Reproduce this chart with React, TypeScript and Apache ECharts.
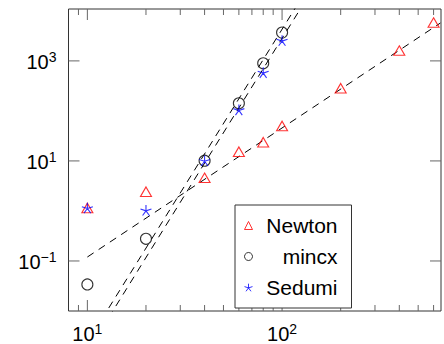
import React, { useEffect, useRef } from "react";
import * as echarts from "echarts";

// ---- data ----
const newtonSizes = [10, 20, 40, 60, 80, 100, 200, 400, 600];
const newtonTime = [1.15, 2.43, 4.6, 15.3, 23.7, 50, 284, 1607, 5836];
const solverSizes = [10, 20, 40, 60, 80, 100];
const mincxTime = [0.034, 0.278, 10.1, 142, 895, 3680];
const sedumiTime = [1.15, 1.03, 10.1, 105, 584, 2550];

// dashed fit lines (end points)
const newtonFitX = [10, 650];
const newtonFitY = [0.12, 5710];
const mincxFitX = [10, 150];
const mincxFitY = [0.00236, 54300];
const sedumiFitX = [10, 150];
const sedumiFitY = [0.00152, 35900];

// axis ticks
const xMajorTicks = [10, 100];
const xMinorTicks = [9, 20, 30, 40, 50, 60, 70, 80, 90, 200, 300, 400, 500, 600];
const yMajorTicks = [0.1, 10, 1000];
const xLabelExps = [1, 2];
const yLabelExps = [-1, 1, 3];

const X_MIN = 8;
const X_MAX = 655;
const Y_MIN = 0.01;
const Y_MAX = 10900;

const FONT = "Liberation Sans";
const STAR_PATH =
  "path://M0,-10L0,0M9.51,-3.09L0,0M5.88,8.09L0,0M-5.88,8.09L0,0M-9.51,-3.09L0,0";

const pairs = (xs: number[], ys: number[]) => xs.map((x, i) => [x, ys[i]]);

const makeFormatter = (exps: number[]) => (v: number) => {
  const e = Math.log10(v);
  const r = Math.round(e);
  if (Math.abs(e - r) > 1e-6 || exps.indexOf(r) < 0) return "";
  const sup = r < 0 ? "\u2212" + Math.abs(r) : String(r);
  return `{b|10}{s|${sup}}`;
};

const labelRich = {
  b: { fontSize: 20, fontFamily: FONT, color: "#000", lineHeight: 22, verticalAlign: "bottom" },
  s: { fontSize: 14, fontFamily: FONT, color: "#000", lineHeight: 14, verticalAlign: "top" },
};

export default function App() {
  const ref = useRef<HTMLDivElement>(null);

  useEffect(() => {
    if (!ref.current) return;
    const chart = echarts.init(ref.current, null, { renderer: "svg" });

    const tickData: any[] = [];
    xMajorTicks.forEach((v) => tickData.push([v, 1, 1]));
    xMinorTicks.forEach((v) => tickData.push([v, 1, 0]));
    yMajorTicks.forEach((v) => tickData.push([10, v, 2]));

    const tickStyle = { stroke: "#666", lineWidth: 1 };

    const option: any = {
      animation: false,
      grid: {
        left: 68.5,
        right: -2.6,
        top: 9,
        bottom: 32.6,
        show: true,
        borderColor: "#333",
        borderWidth: 1,
        backgroundColor: "transparent",
      },
      xAxis: {
        type: "log",
        min: X_MIN,
        max: X_MAX,
        axisLine: { show: false },
        axisTick: { show: false },
        splitLine: { show: false },
        axisLabel: {
          formatter: makeFormatter(xLabelExps),
          rich: labelRich,
          margin: 11,
          showMinLabel: true,
          showMaxLabel: true,
        },
      },
      yAxis: {
        type: "log",
        min: Y_MIN,
        max: Y_MAX,
        axisLine: { show: false },
        axisTick: { show: false },
        splitLine: { show: false },
        axisLabel: {
          formatter: makeFormatter(yLabelExps),
          rich: labelRich,
          margin: 12,
        },
      },
      legend: {
        orient: "vertical",
        left: 235,
        top: 205,
        itemWidth: 8,
        itemHeight: 8,
        itemGap: 10,
        padding: [10, 14, 10, 9],
        backgroundColor: "#fff",
        borderColor: "#333",
        borderWidth: 1,
        borderRadius: 0,
        selectedMode: false,
        formatter: (name: string) => `{n|${name}}`,
        textStyle: {
          rich: {
            n: { width: 80, align: "right", fontSize: 21, fontFamily: FONT, lineHeight: 24, color: "#000" },
          },
        },
        data: [
          { name: "Newton", icon: "triangle", itemStyle: { color: "transparent", borderColor: "#ff0000", borderWidth: 1 } },
          { name: "mincx", icon: "circle", itemStyle: { color: "transparent", borderColor: "#000", borderWidth: 1 } },
          { name: "Sedumi", icon: STAR_PATH, itemStyle: { color: "transparent", borderColor: "#0000ff", borderWidth: 1 } },
        ],
      },
      series: [
        {
          name: "ticks",
          type: "custom",
          silent: true,
          data: tickData,
          z: 1,
          renderItem: (params: any, api: any) => {
            const cs = params.coordSys;
            const kind = api.value(2);
            const p = api.coord([api.value(0), api.value(1)]);
            if (kind < 2) {
              const len = kind === 1 ? 11 : 6;
              const bottom = cs.y + cs.height;
              return {
                type: "group",
                children: [
                  { type: "line", shape: { x1: p[0], y1: bottom, x2: p[0], y2: bottom - len }, style: tickStyle },
                  { type: "line", shape: { x1: p[0], y1: cs.y, x2: p[0], y2: cs.y + len }, style: tickStyle },
                ],
              };
            }
            const right = cs.x + cs.width;
            return {
              type: "group",
              children: [
                { type: "line", shape: { x1: cs.x, y1: p[1], x2: cs.x + 11, y2: p[1] }, style: tickStyle },
                { type: "line", shape: { x1: right, y1: p[1], x2: right - 11, y2: p[1] }, style: tickStyle },
              ],
            };
          },
        },
        {
          name: "NewtonFit",
          type: "line",
          data: pairs(newtonFitX, newtonFitY),
          showSymbol: false,
          symbol: "none",
          lineStyle: { color: "#000", width: 1, type: [7.5, 6] },
          z: 2,
        },
        {
          name: "mincxFit",
          type: "line",
          data: pairs(mincxFitX, mincxFitY),
          showSymbol: false,
          symbol: "none",
          lineStyle: { color: "#000", width: 1, type: [7.5, 6] },
          z: 2,
        },
        {
          name: "SedumiFit",
          type: "line",
          data: pairs(sedumiFitX, sedumiFitY),
          showSymbol: false,
          symbol: "none",
          lineStyle: { color: "#000", width: 1, type: [7.5, 6] },
          z: 2,
        },
        {
          name: "Newton",
          type: "scatter",
          data: pairs(newtonSizes, newtonTime),
          symbol: "triangle",
          symbolSize: [11, 9.5],
          itemStyle: { color: "transparent", borderColor: "#ff0000", borderWidth: 1.1 },
          z: 3,
        },
        {
          name: "mincx",
          type: "scatter",
          data: pairs(solverSizes, mincxTime),
          symbol: "circle",
          symbolSize: 11,
          itemStyle: { color: "transparent", borderColor: "#000", borderWidth: 1.1 },
          z: 3,
        },
        {
          name: "Sedumi",
          type: "scatter",
          data: pairs(solverSizes, sedumiTime),
          symbol: STAR_PATH,
          symbolKeepAspect: true,
          symbolSize: 11,
          itemStyle: { color: "transparent", borderColor: "#0000ff", borderWidth: 1.1 },
          z: 3,
        },
      ],
    };

    chart.setOption(option);
    return () => chart.dispose();
  }, []);

  return (
    <div
      ref={ref}
      style={{ position: "fixed", left: 0, top: 0, width: 444, height: 344, background: "#fff" }}
    />
  );
}
